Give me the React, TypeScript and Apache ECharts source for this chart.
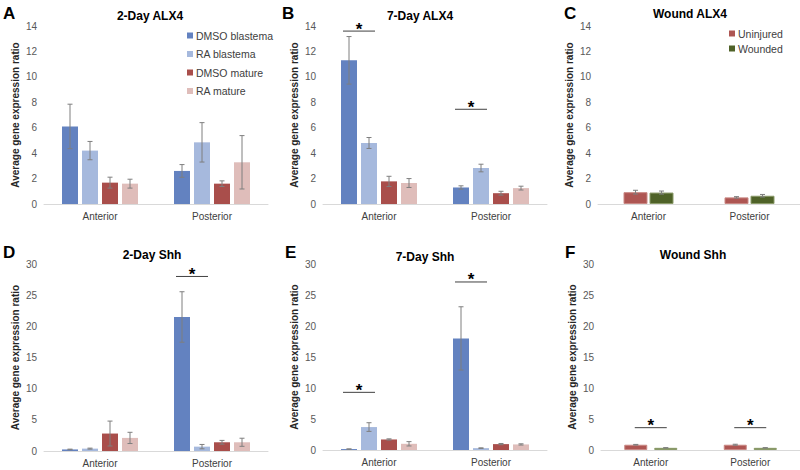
import React, { useEffect, useRef } from "react";
import * as echarts from "echarts";

const categories = ["Anterior", "Posterior"];
const treatmentNames = ["DMSO blastema", "RA blastema", "DMSO mature", "RA mature"];
const woundNames = ["Uninjured", "Wounded"];
const panelTitles = ["2-Day ALX4", "7-Day ALX4", "Wound ALX4", "2-Day Shh", "7-Day Shh", "Wound Shh"];
const panelLetters = ["A", "B", "C", "D", "E", "F"];
const yAxisName = "Average gene expression ratio";
const alxTicks = { max: 14, interval: 2 };
const shhTicks = { max: 30, interval: 5 };

// [series][category]
const alx2Mean = [[6.1, 2.6], [4.2, 4.85], [1.68, 1.6], [1.6, 3.28]];
const alx2Err = [[1.75, 0.5], [0.72, 1.55], [0.43, 0.22], [0.35, 2.1]];
const alx7Mean = [[11.3, 1.3], [4.8, 2.83], [1.78, 0.85], [1.65, 1.25]];
const alx7Err = [[1.87, 0.13], [0.43, 0.3], [0.4, 0.15], [0.35, 0.15]];
const alxWMean = [[0.93, 0.52], [0.9, 0.65]];
const alxWErr = [[0.15, 0.06], [0.12, 0.1]];
const shh2Mean = [[0.25, 21.5], [0.38, 0.7], [2.8, 1.4], [2.1, 1.4]];
const shh2Err = [[0.05, 4.05], [0.08, 0.35], [2.0, 0.3], [0.9, 0.65]];
const shh7Mean = [[0.15, 18.0], [3.7, 0.3], [1.7, 0.95], [1.0, 0.9]];
const shh7Err = [[0.03, 5.1], [0.7, 0.05], [0.1, 0.1], [0.35, 0.1]];
const shhWMean = [[0.85, 0.85], [0.35, 0.35]];
const shhWErr = [[0.05, 0.08], [0.03, 0.03]];

// significance: [categoryIndex, firstBar, lastBar, value]
const sigA: number[][] = [];
const sigB = [[0, 0, 1, 13.6], [1, 0, 1, 7.45]];
const sigC: number[][] = [];
const sigD = [[1, 0, 1, 28]];
const sigE = [[0, 0, 1, 9.3], [1, 0, 1, 27.1]];
const sigF = [[0, 0, 1, 3.6], [1, 0, 1, 3.6]];

const treatmentColors = ["#6382C0", "#A6B9DD", "#A94E4B", "#DFBDBA"];
const woundColors = ["#AE5653", "#4F6228"];
const woundBorders = ["#C98884", "#8A9A68"];

const FONT = "'Liberation Sans', Arial, sans-serif";

const panels = [
  { mean: alx2Mean, err: alx2Err, names: treatmentNames, ticks: alxTicks, sig: sigA, grid: { left: 44, top: 26, width: 224, height: 178 }, bw: 16, gap: 4 },
  { mean: alx7Mean, err: alx7Err, names: treatmentNames, ticks: alxTicks, sig: sigB, grid: { left: 323, top: 26, width: 224, height: 178 }, bw: 16, gap: 4 },
  { mean: alxWMean, err: alxWErr, names: woundNames, ticks: alxTicks, sig: sigC, grid: { left: 598, top: 26, width: 204, height: 178 }, bw: 24, gap: 2 },
  { mean: shh2Mean, err: shh2Err, names: treatmentNames, ticks: shhTicks, sig: sigD, grid: { left: 44, top: 264, width: 224, height: 187 }, bw: 16, gap: 4 },
  { mean: shh7Mean, err: shh7Err, names: treatmentNames, ticks: shhTicks, sig: sigE, grid: { left: 323, top: 264, width: 224, height: 186 }, bw: 16, gap: 4 },
  { mean: shhWMean, err: shhWErr, names: woundNames, ticks: shhTicks, sig: sigF, grid: { left: 601, top: 264, width: 208, height: 186 }, bw: 23, gap: 7 },
];

const titlePos = [
  [150, 16], [420, 16], [690, 14], [152, 255], [425, 257], [693, 255],
];
const letterPos = [
  [3, 5], [282, 5], [564, 5], [3, 244], [285, 244], [565, 244],
];

function buildOption() {
  const grid: any[] = [];
  const xAxis: any[] = [];
  const yAxis: any[] = [];
  const series: any[] = [];
  panels.forEach((p, pi) => {
    grid.push({ ...p.grid, containLabel: false });
    xAxis.push({
      type: "category",
      gridIndex: pi,
      data: categories,
      axisLine: { lineStyle: { color: "#D9D9D9", width: 1 } },
      axisTick: { show: false },
      axisLabel: { color: "#404040", fontSize: 10, fontFamily: FONT, margin: 7 },
    });
    yAxis.push({
      type: "value",
      gridIndex: pi,
      min: 0,
      max: p.ticks.max,
      interval: p.ticks.interval,
      splitLine: { show: false },
      axisLine: { show: false },
      axisTick: { show: false },
      axisLabel: { color: "#595959", fontSize: 10, fontFamily: FONT, margin: 7 },
      name: yAxisName,
      nameLocation: "middle",
      nameGap: 24,
      nameTextStyle: { color: "#262626", fontSize: 10, fontWeight: "bold", fontFamily: FONT },
    });
    const n = p.names.length;
    const isWound = n === 2;
    p.mean.forEach((vals, si) => {
      series.push({
        type: "bar",
        name: p.names[si],
        xAxisIndex: pi,
        yAxisIndex: pi,
        data: vals,
        barWidth: p.bw,
        barGap: (p.gap / p.bw) * 100 + "%",
        itemStyle: isWound
          ? { color: woundColors[si], borderColor: woundBorders[si], borderWidth: 1 }
          : { color: treatmentColors[si] },
        z: 2,
      });
    });
    const errData: number[][] = [];
    p.mean.forEach((vals, si) => {
      vals.forEach((v, ci) => errData.push([ci, v, p.err[si][ci], si]));
    });
    const bw = p.bw, gap = p.gap;
    series.push({
      type: "custom",
      name: "err" + pi,
      xAxisIndex: pi,
      yAxisIndex: pi,
      data: errData,
      encode: { x: 0, y: 1 },
      z: 5,
      renderItem: (params: any, api: any) => {
        const c = api.value(0), m = api.value(1), e = api.value(2), b = api.value(3);
        const top = api.coord([c, m + e]);
        const bot = api.coord([c, Math.max(0, m - e)]);
        const x = top[0] + (b - (n - 1) / 2) * (bw + gap);
        const style = { stroke: "#7F7F7F", lineWidth: 1 };
        return {
          type: "group",
          children: [
            { type: "line", shape: { x1: x, y1: top[1], x2: x, y2: bot[1] }, style },
            { type: "line", shape: { x1: x - 2.5, y1: top[1], x2: x + 2.5, y2: top[1] }, style },
            { type: "line", shape: { x1: x - 2.5, y1: bot[1], x2: x + 2.5, y2: bot[1] }, style },
          ],
        };
      },
    });
    if (p.sig.length) {
      series.push({
        type: "custom",
        name: "sig" + pi,
        xAxisIndex: pi,
        yAxisIndex: pi,
        data: p.sig,
        encode: { x: 0, y: 3 },
        z: 6,
        clip: false,
        renderItem: (params: any, api: any) => {
          const c = api.value(0), b0 = api.value(1), b1 = api.value(2), v = api.value(3);
          const pt = api.coord([c, v]);
          const x0 = pt[0] + (b0 - (n - 1) / 2) * (bw + gap);
          const x1 = pt[0] + (b1 - (n - 1) / 2) * (bw + gap);
          const mid = (x0 + x1) / 2;
          const half = 16;
          return {
            type: "group",
            children: [
              { type: "line", shape: { x1: mid - half, y1: pt[1], x2: mid + half, y2: pt[1] }, style: { stroke: "#404040", lineWidth: 1 } },
              { type: "text", x: mid, y: pt[1] - 2, style: { text: "*", fill: "#000", font: "bold 17px " + FONT, align: "center", verticalAlign: "middle" } },
            ],
          };
        },
      });
    }
  });

  const graphic: any[] = [];
  panelTitles.forEach((t, i) => {
    graphic.push({
      type: "text",
      x: titlePos[i][0],
      y: titlePos[i][1],
      style: { text: t, fill: "#000", font: "bold 12px " + FONT, align: "center", verticalAlign: "middle" },
    });
  });
  panelLetters.forEach((t, i) => {
    graphic.push({
      type: "text",
      x: letterPos[i][0],
      y: letterPos[i][1],
      style: { text: t, fill: "#000", font: "bold 17px " + FONT, align: "left", verticalAlign: "top" },
    });
  });

  const legendText = { color: "#404040", fontSize: 10.5, fontFamily: FONT, padding: [0, 0, 0, -2] };
  return {
    animation: false,
    backgroundColor: "#fff",
    grid,
    xAxis,
    yAxis,
    series,
    graphic,
    legend: [
      {
        data: treatmentNames,
        orient: "vertical",
        left: 187,
        top: 30,
        padding: 0,
        itemWidth: 6,
        itemHeight: 6,
        itemGap: 7.5,
        icon: "rect",
        itemStyle: { borderWidth: 0 },
        textStyle: legendText,
        selectedMode: false,
      },
      {
        data: woundNames,
        orient: "vertical",
        left: 729,
        top: 28,
        padding: 0,
        itemWidth: 6,
        itemHeight: 6,
        itemGap: 4,
        icon: "rect",
        itemStyle: { borderWidth: 0 },
        textStyle: legendText,
        selectedMode: false,
      },
    ],
  };
}

export default function App() {
  const ref = useRef<HTMLDivElement>(null);
  useEffect(() => {
    if (!ref.current) return;
    const chart = echarts.init(ref.current, null, { renderer: "svg" });
    chart.setOption(buildOption() as any);
    return () => chart.dispose();
  }, []);
  return (
    <div
      ref={ref}
      style={{ position: "absolute", left: 0, top: 0, width: 800, height: 470, background: "#fff" }}
    />
  );
}
